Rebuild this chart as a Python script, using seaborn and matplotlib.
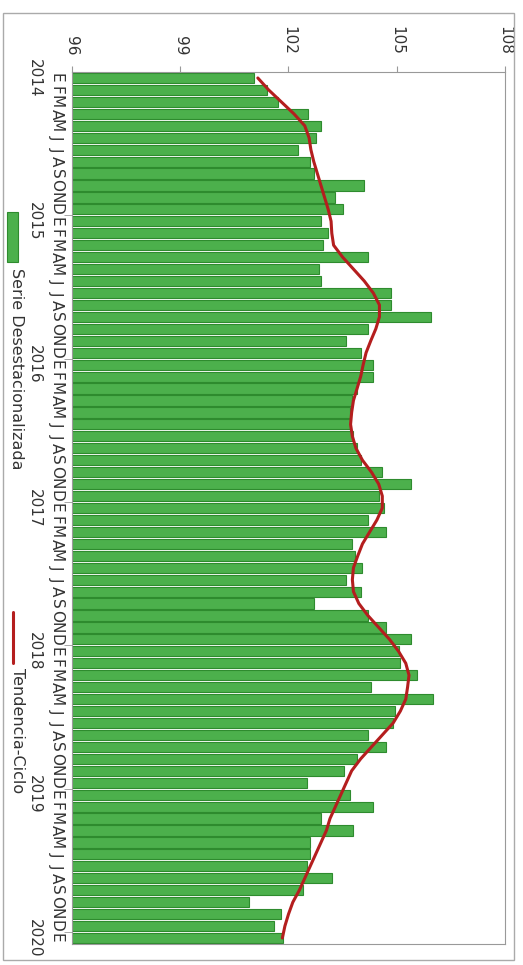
import numpy as np
import pandas as pd
import matplotlib
matplotlib.use("Agg")
import matplotlib.pyplot as plt
import seaborn as sns
from matplotlib.lines import Line2D
from matplotlib.patches import Rectangle

# ── DATOS (ene 2014 - ene 2020, mensual) ──
ANIOS = ["2014", "2015", "2016", "2017", "2018", "2019", "2020"]
MESES = list("EFMAMJJASOND")
TICKS_VALOR = [96, 99, 102, 105, 108]

serie = [101.05, 101.4, 101.7, 102.55, 102.9, 102.75, 102.25, 102.6, 102.7, 104.1, 103.3, 103.5,
         102.9, 103.1, 102.95, 104.2, 102.85, 102.9, 104.85, 104.85, 105.95, 104.2, 103.6, 104.0,
         104.35, 104.35, 103.9, 103.75, 103.7, 103.7, 103.8, 103.9, 104.0, 104.6, 105.4, 104.5,
         104.65, 104.2, 104.7, 103.75, 103.85, 104.05, 103.6, 104.0, 102.7, 104.2, 104.7, 105.4,
         105.05, 105.1, 105.55, 104.3, 106.0, 104.95, 104.9, 104.2, 104.7, 103.9, 103.55, 102.5,
         103.7, 104.35, 102.9, 103.8, 102.6, 102.6, 102.5, 103.2, 102.4, 100.9, 101.8, 101.6,
         101.85]

tendencia = [101.15, 101.45, 101.8, 102.15, 102.45, 102.57, 102.62, 102.7, 102.8, 102.9, 103.0, 103.1,
             103.18, 103.2, 103.25, 103.5, 103.8, 104.1, 104.35, 104.52, 104.52, 104.42, 104.28, 104.15,
             104.07, 104.0, 103.9, 103.8, 103.75, 103.72, 103.77, 103.87, 104.05, 104.3, 104.5, 104.6,
             104.6, 104.45, 104.25, 104.05, 103.92, 103.8, 103.77, 103.8, 103.95, 104.2, 104.5, 104.8,
             105.05, 105.25, 105.34, 105.3, 105.25, 105.1, 104.9, 104.6, 104.3, 104.0, 103.75, 103.6,
             103.45, 103.3, 103.15, 103.05, 102.9, 102.75, 102.6, 102.45, 102.3, 102.12, 102.0, 101.9,
             101.83]

# ── ESTILO ──
VERDE = "#4CB04C"
VERDE_BORDE = "#2E8B2E"
ROJO = "#B41E1E"
GRIS = "#999999"
TEXTO = "#333333"

sns.set_style("white")
plt.rcParams["font.family"] = ["DejaVu Sans"]

W, H = 523, 965
fig = plt.figure(figsize=(W / 100, H / 100), dpi=100)
ax = fig.add_axes([72 / W, 21 / H, 433 / W, 872 / H])

n = len(serie)
df = pd.DataFrame({"mes": np.arange(n), "valor": serie})

sns.barplot(data=df, x="valor", y="mes", orient="h", color=VERDE, saturation=1,
            edgecolor=VERDE_BORDE, linewidth=0.8, width=0.85, ax=ax)
sns.lineplot(x=tendencia, y=np.arange(n), orient="y", sort=False,
             color=ROJO, linewidth=2.2, ax=ax)

ax.set_xlim(96, 108)
ax.set_ylim(n - 0.5, -0.5)
ax.set_xlabel("")
ax.set_ylabel("")

# eje de valores (arriba, girado)
ax.xaxis.tick_top()
ax.set_xticks(TICKS_VALOR)
ax.set_xticklabels([str(t) for t in TICKS_VALOR], rotation=-90, fontsize=11, color=TEXTO)
ax.tick_params(axis="x", top=True, bottom=False, direction="out", length=4,
               color=GRIS, pad=8)

# eje temporal (izquierda, letras de mes)
etiquetas = [MESES[i % 12] for i in range(n)]
ax.set_yticks(np.arange(n))
ax.set_yticklabels(etiquetas, rotation=-90, fontsize=11, color=TEXTO, va="center")
ax.tick_params(axis="y", which="major", length=0, pad=6)
ax.set_yticks(np.arange(11.5, n - 1, 12), minor=True)
ax.tick_params(axis="y", which="minor", left=True, length=6, color=GRIS)

for k, anio in enumerate(ANIOS):
    ax.text(-0.088, k * 12, anio, transform=ax.get_yaxis_transform(), rotation=-90,
            ha="center", va="center", fontsize=11, color=TEXTO)

for s in ax.spines.values():
    s.set_color(GRIS)
    s.set_linewidth(0.8)

# ── LEYENDA (girada) ──
fig.add_artist(Rectangle((7 / W, 1 - 262 / H), 11 / W, 50 / H, transform=fig.transFigure,
                         facecolor=VERDE, edgecolor=VERDE_BORDE, linewidth=0.8))
fig.text(16 / W, 1 - 268 / H, "Serie Desestacionalizada", rotation=-90,
         ha="center", va="top", fontsize=11.5, color=TEXTO)
fig.add_artist(Line2D([13 / W, 13 / W], [1 - 612 / H, 1 - 663 / H], transform=fig.transFigure,
                      color=ROJO, linewidth=2.2))
fig.text(17 / W, 1 - 668 / H, "Tendencia-Ciclo", rotation=-90,
         ha="center", va="top", fontsize=11.5, color=TEXTO)

# marco exterior
fig.add_artist(Rectangle((3 / W, 5 / H), 511 / W, 947 / H, transform=fig.transFigure,
                         fill=False, edgecolor="#AAAAAA", linewidth=1))

fig.savefig("out.png", dpi=100)
